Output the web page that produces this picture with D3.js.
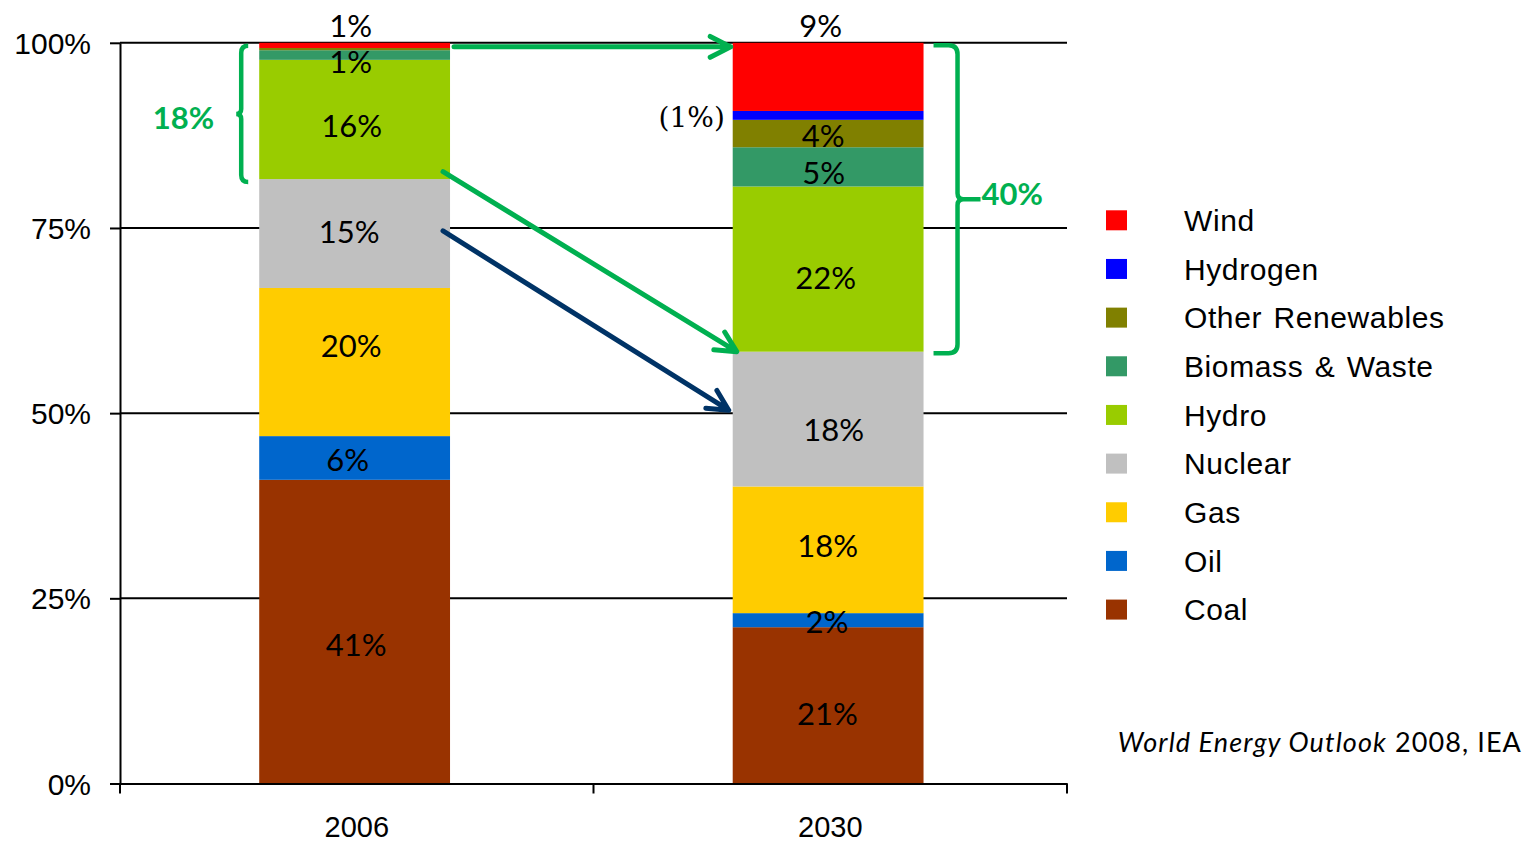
<!DOCTYPE html>
<html>
<head>
<meta charset="utf-8">
<script src="https://cdn.jsdelivr.net/npm/d3@7"></script>
<style>
body { margin: 0; background: #fff; }
</style>
</head>
<body>
<div id="chartbox"></div>
<script>
const years = ['2006', '2030']
const sources = ['Coal', 'Oil', 'Gas', 'Nuclear', 'Hydro', 'Biomass & Waste', 'Other Renewables', 'Hydrogen', 'Wind']
const share2006 = [41.0, 5.9, 20.0, 14.7, 16.1, 1.3, 0.3, 0, 0.7]
const share2030 = [21.1, 1.9, 17.1, 18.2, 22.3, 5.3, 3.7, 1.2, 9.2]
const labels2006 = ['41%', '6%', '20%', '15%', '16%', '1%', '', '', '1%']
const labels2030 = ['21%', '2%', '18%', '18%', '22%', '5%', '4%', '(1%)', '9%']
const renewLabels = ['18%', '40%']
const yTicks = [0, 25, 50, 75, 100]
const colors = ['#993300', '#0066cc', '#ffcc00', '#c0c0c0', '#99cc00', '#339966', '#808000', '#0000ff', '#ff0000']
const sourceNote = ['World Energy Outlook', ' 2008, IEA']

const W = 1527, H = 842
const plot = {left: 120, right: 1067, top: 42.8, bottom: 783.5}
const green = '#00b050', navy = '#003366'
const axisFont = 'Liberation Sans, Arial, sans-serif'
const labelFont = 'Lato, Calibri, sans-serif'

const svg = d3.select('#chartbox')
  .append('svg')
  .attr('width', W)
  .attr('height', H)

const x = d3.scaleBand().domain(years).range([plot.left, plot.right])
const y = d3.scaleLinear().domain([0, 100]).range([plot.bottom, plot.top])
const color = d3.scaleOrdinal().domain(sources).range(colors)

const barOffset = x.bandwidth() * 0.294
const barWidth = x.bandwidth() * 0.403
const barLeft = yr => x(yr) + barOffset
const barRight = yr => x(yr) + barOffset + barWidth
const barMid = yr => x(yr) + barOffset + barWidth / 2

const shares = {'2006': share2006, '2030': share2030}
const labels = {'2006': labels2006, '2030': labels2030}

const rows = years.map(yr => {
  const row = {year: yr}
  sources.forEach((s, i) => row[s] = shares[yr][i])
  return row
})
const series = d3.stack().keys(sources)(rows)
const seg = (src, yr) => series[sources.indexOf(src)][years.indexOf(yr)]

// gridlines behind the bars
svg.append('g')
  .selectAll('line')
  .data(yTicks.filter(t => t > 0))
  .enter()
  .append('line')
  .attr('x1', plot.left)
  .attr('x2', plot.right)
  .attr('y1', d => y(d))
  .attr('y2', d => y(d))
  .attr('stroke', '#000')
  .attr('stroke-width', 2)

svg.append('g')
  .selectAll('g')
  .data(series)
  .enter()
  .append('g')
  .attr('fill', d => color(d.key))
  .selectAll('rect')
  .data(d => d)
  .enter()
  .append('rect')
  .attr('x', d => barLeft(d.data.year))
  .attr('y', d => y(d[1]))
  .attr('width', barWidth)
  .attr('height', d => y(d[0]) - y(d[1]))

// axes
const yAxis = svg.append('g')
  .attr('transform', `translate(${plot.left},0)`)
  .call(d3.axisLeft(y).tickValues(yTicks).tickFormat(d => d + '%')
    .tickSizeInner(10).tickSizeOuter(0).tickPadding(19))
yAxis.attr('font-family', axisFont).attr('font-size', 30)
yAxis.selectAll('.domain, .tick line').attr('stroke', '#000').attr('stroke-width', 2)
yAxis.selectAll('text').attr('fill', '#000').attr('dy', '0.35em')

const xAxis = svg.append('g')
  .attr('transform', `translate(0,${plot.bottom})`)
  .call(d3.axisBottom(x).tickSize(0).tickPadding(33))
xAxis.attr('font-family', axisFont).attr('font-size', 29)
xAxis.select('.domain').attr('stroke', '#000').attr('stroke-width', 2)
xAxis.selectAll('text').attr('fill', '#000')
xAxis.selectAll('line.edge')
  .data(years.map(d => x(d)).concat([plot.right]))
  .enter()
  .append('line')
  .attr('class', 'edge')
  .attr('x1', d => d)
  .attr('x2', d => d)
  .attr('y1', 0)
  .attr('y2', 10)
  .attr('stroke', '#000')
  .attr('stroke-width', 2)

// segment labels (hand placed in the original, so small nudges)
const nudge = {
  '2006-Coal': [1.5, 13], '2006-Oil': [-7, 2], '2006-Gas': [-3.5, -16.5], '2006-Nuclear': [-5.5, -1.5],
  '2006-Hydro': [-3, 6], '2006-Biomass & Waste': [-4, 7], '2006-Wind': [-4, 0],
  '2030-Coal': [-0.7, 8], '2030-Oil': [-1.2, 1.5], '2030-Gas': [-0.5, -4], '2030-Nuclear': [5.5, 10.5],
  '2030-Hydro': [-2.5, 8.5], '2030-Biomass & Waste': [-4.5, 5.5], '2030-Other Renewables': [-5, 2],
  '2030-Wind': [-7.5, 0]
}

const labelData = []
series.forEach((s, i) => {
  s.forEach(d => {
    const yr = d.data.year
    const text = labels[yr][i]
    if (!text) return
    const n = nudge[yr + '-' + s.key] || [0, 0]
    let lx = barMid(yr) + n[0]
    let ly = (y(d[0]) + y(d[1])) / 2 + n[1]
    let font = labelFont
    if (s.key === 'Wind') ly = y(d[1]) - 16.5
    if (s.key === 'Hydrogen') {
      lx = barLeft(yr) - 41
      ly += 1.5
      font = 'DejaVu Serif, Cambria, serif'
    }
    labelData.push({text, lx, ly, font, size: s.key === 'Hydrogen' ? 28 : 31})
  })
})

svg.append('g')
  .selectAll('text')
  .data(labelData)
  .enter()
  .append('text')
  .attr('x', d => d.lx)
  .attr('y', d => d.ly)
  .attr('dy', '0.36em')
  .attr('text-anchor', 'middle')
  .attr('font-family', d => d.font)
  .attr('font-size', d => d.size)
  .attr('fill', '#000')
  .text(d => d.text)

// arrows
function arrow(x1, y1, x2, y2, stroke) {
  const a = Math.atan2(y2 - y1, x2 - x1), len = 23, spread = Math.PI * 27 / 180
  const arm = ang => [x2 - len * Math.cos(a + ang), y2 - len * Math.sin(a + ang)]
  const p1 = arm(spread), p2 = arm(-spread)
  svg.append('path')
    .attr('d', `M${x1},${y1}L${x2},${y2}M${p1[0]},${p1[1]}L${x2},${y2}L${p2[0]},${p2[1]}`)
    .attr('fill', 'none')
    .attr('stroke', stroke)
    .attr('stroke-width', 5)
    .attr('stroke-linecap', 'round')
    .attr('stroke-linejoin', 'round')
}

arrow(barRight('2006') + 4, y(99.45), barLeft('2030') - 2, y(99.45), green)
arrow(barRight('2006') - 7, y(seg('Hydro', '2006')[0] + 1), barLeft('2030') + 4, y(seg('Hydro', '2030')[0]), green)
arrow(barRight('2006') - 7, y(74.6), barLeft('2030') - 4, y(50.4), navy)

// braces around the renewables share
const top2006 = y(100) + 3, bot2006 = y(seg('Hydro', '2006')[0]) + 3
const bx = barLeft('2006') - 18, bmid = (top2006 + bot2006) / 2
svg.append('path')
  .attr('d', `M${bx + 7},${top2006}Q${bx},${top2006} ${bx},${top2006 + 7}L${bx},${bmid - 5}` +
    `Q${bx},${bmid} ${bx - 5},${bmid}Q${bx},${bmid} ${bx},${bmid + 5}` +
    `L${bx},${bot2006 - 7}Q${bx},${bot2006} ${bx + 7},${bot2006}`)
  .attr('fill', 'none')
  .attr('stroke', green)
  .attr('stroke-width', 4.5)

const top2030 = y(100) + 2.5, bot2030 = y(seg('Hydro', '2030')[0]) + 1.5
const rx = barRight('2030') + 34, rmid = (top2030 + bot2030) / 2
svg.append('path')
  .attr('d', `M${rx - 24},${top2030}L${rx - 9},${top2030}Q${rx},${top2030} ${rx},${top2030 + 9}` +
    `L${rx},${rmid - 6}Q${rx},${rmid} ${rx + 6},${rmid}L${rx + 23},${rmid}M${rx + 6},${rmid}` +
    `Q${rx},${rmid} ${rx},${rmid + 6}L${rx},${bot2030 - 9}Q${rx},${bot2030} ${rx - 9},${bot2030}L${rx - 24},${bot2030}`)
  .attr('fill', 'none')
  .attr('stroke', green)
  .attr('stroke-width', 4.5)

svg.append('text')
  .attr('x', bx - 27)
  .attr('y', bmid + 4)
  .attr('dy', '0.36em')
  .attr('text-anchor', 'end')
  .attr('font-family', labelFont)
  .attr('font-weight', 'bold')
  .attr('font-size', 31)
  .attr('fill', green)
  .text(renewLabels[0])

svg.append('text')
  .attr('x', rx + 24)
  .attr('y', rmid - 5)
  .attr('dy', '0.36em')
  .attr('text-anchor', 'start')
  .attr('font-family', labelFont)
  .attr('font-weight', 'bold')
  .attr('font-size', 31)
  .attr('fill', green)
  .text(renewLabels[1])

// legend, top entry is the top of the stack
const legendKeys = sources.slice().reverse()
const legend = svg.append('g')
  .selectAll('g')
  .data(legendKeys)
  .enter()
  .append('g')
  .attr('transform', (d, i) => `translate(1106,${220.3 + i * 48.66})`)

legend.append('rect')
  .attr('x', 0)
  .attr('y', -10)
  .attr('width', 21)
  .attr('height', 20)
  .attr('fill', d => color(d))

legend.append('text')
  .attr('x', 78)
  .attr('y', 0)
  .attr('dy', '0.36em')
  .attr('font-family', axisFont)
  .attr('font-size', 30)
  .attr('letter-spacing', 0.6)
  .attr('word-spacing', 2.5)
  .attr('fill', '#000')
  .text(d => d)

const note = svg.append('text')
  .attr('x', 1522)
  .attr('y', 752)
  .attr('text-anchor', 'end')
  .attr('font-family', labelFont)
  .attr('font-size', 27)
  .attr('letter-spacing', 1.1)
  .attr('fill', '#000')
note.append('tspan').attr('font-style', 'italic').text(sourceNote[0])
note.append('tspan').text(sourceNote[1])
</script>
</body>
</html>
